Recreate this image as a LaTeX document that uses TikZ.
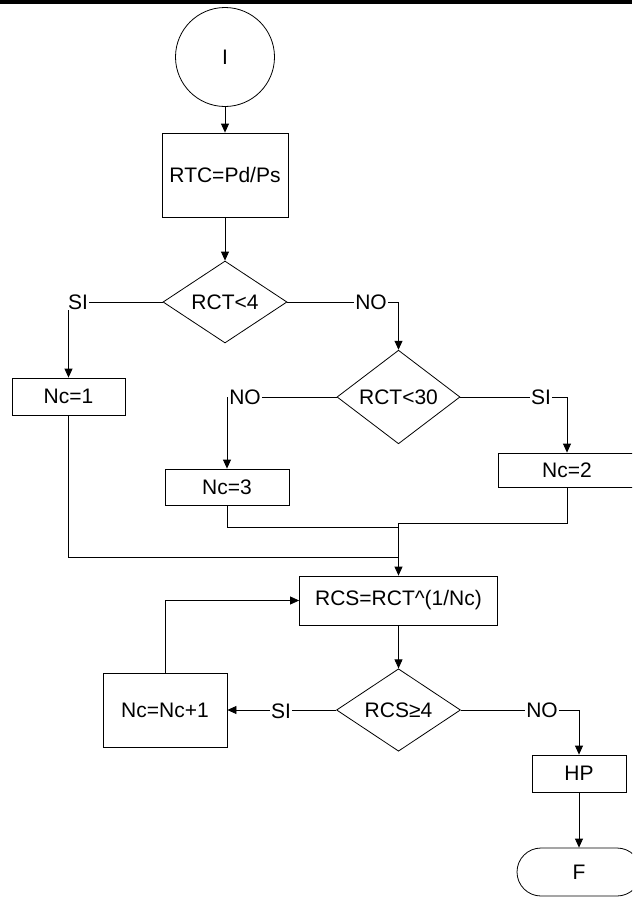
\documentclass[tikz,border=0pt]{standalone}
\usepackage{fontspec}
\setmainfont{Liberation Sans}
\usetikzlibrary{shapes.geometric,shapes.misc,arrows.meta}

\begin{document}
\begin{tikzpicture}[x=1pt,y=-1pt,
  every node/.style={font=\fontsize{21}{25}\selectfont, text=black},
  proc/.style={draw, line width=0.8pt, rectangle, inner sep=0pt},
  decide/.style={draw, line width=0.8pt, diamond, inner sep=0pt},
  lbl/.style={fill=white, inner sep=1pt},
  link/.style={line width=0.8pt},
  arr/.style={link, -{Triangle[length=9pt,width=8pt]}}]

\useasboundingbox (0,0) rectangle (632,897);
\clip (0,0) rectangle (632,897);
\fill[black] (0,0) rectangle (632,4);

% main column
\node[draw, line width=0.8pt, circle, minimum size=99pt, inner sep=0pt] (start) at (225,57) {I};
\node[proc, minimum width=126pt, minimum height=84pt] (rtc) at (225,175) {RTC=Pd/Ps};
\node[decide, minimum width=124pt, minimum height=74pt] (d1) at (225,302) {RCT<4};

% first decision branches
\node[proc, minimum width=113pt, minimum height=37pt] (nc1) at (68.5,396.5) {Nc=1};
\node[decide, minimum width=123pt, minimum height=73pt] (d2) at (398.5,397) {RCT<30};
\node[proc, minimum width=124pt, minimum height=36pt] (nc3) at (227,487) {Nc=3};
\node[proc, minimum width=138pt, minimum height=34pt] (nc2) at (567,470) {Nc=2};

% loop on the number of stages
\node[proc, minimum width=198pt, minimum height=49pt] (rcs) at (398.5,600.5) {RCS=RCT\textasciicircum(1/Nc)};
\node[decide, minimum width=124pt, minimum height=74pt] (d3) at (398.5,710) {RCS≥4};
\node[proc, minimum width=124pt, minimum height=74pt] (inc) at (165,710) {Nc=Nc+1};
\node[proc, minimum width=94pt, minimum height=37pt] (hp) at (579,773.5) {HP};
\node[draw, line width=0.8pt, rounded rectangle, minimum width=124pt, minimum height=48pt, inner sep=0pt] (fin) at (579,872) {F};

% junction points of the merging branches
\coordinate (j1) at (398.5,523);
\coordinate (j2) at (398.5,527);
\coordinate (j3) at (398.5,557);

% connectors
\draw[arr] (start.south) -- (rtc.north);
\draw[arr] (rtc.south) -- (d1.north);
\draw[arr] (d1.west) -| (nc1.north);
\draw[arr] (d1.east) -| (d2.north);
\draw[arr] (d2.west) -| (nc3.north);
\draw[arr] (d2.east) -| (nc2.north);
\draw[arr] (nc2.south) |- (j1) -- (rcs.north);
\draw[link] (nc3.south) |- (j2);
\draw[link] (nc1.south) |- (j3);
\draw[arr] (rcs.south) -- (d3.north);
\draw[arr] (d3.west) -- (inc.east);
\draw[arr] (inc.north) |- (rcs.west);
\draw[arr] (d3.east) -| (hp.north);
\draw[arr] (hp.south) -- (fin.north);

% branch labels
\node[lbl, anchor=west] (l1) at (67,302) {SI};
\node[lbl] (l2) at (371,302) {NO};
\node[lbl] (l3) at (245,397) {NO};
\node[lbl] (l4) at (541,397) {SI};
\node[lbl] (l5) at (281,711) {SI};
\node[lbl] (l6) at (542,710) {NO};
\end{tikzpicture}
\end{document}
